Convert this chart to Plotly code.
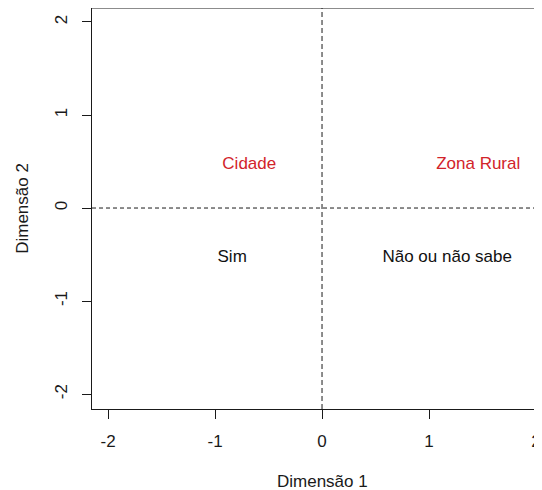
import plotly.graph_objects as go

# Data (correspondence analysis coordinates)
row_labels = ["Cidade", "Zona Rural"]
row_dim1 = [-0.68, 1.46]
row_dim2 = [0.46, 0.46]

col_labels = ["Sim", "Não ou não sabe"]
col_dim1 = [-0.84, 1.17]
col_dim2 = [-0.53, -0.53]

tick_vals = [-2, -1, 0, 1, 2]
tick_text = ["-2", "-1", "0", "1", "2"]

FONT = "Liberation Sans, Arial, sans-serif"
RED = "#D2232A"
INK = "#1a1a1a"

fig = go.Figure()
fig.add_trace(go.Scatter(x=row_dim1, y=row_dim2, text=row_labels, mode="text",
                         textfont=dict(family=FONT, size=17, color=RED),
                         textposition="middle center", hoverinfo="text"))
fig.add_trace(go.Scatter(x=col_dim1, y=col_dim2, text=col_labels, mode="text",
                         textfont=dict(family=FONT, size=17, color="#111111"),
                         textposition="middle center", hoverinfo="text"))

axis_common = dict(
    showgrid=False, zeroline=False, showline=True, linecolor=INK, linewidth=1,
    ticks="outside", ticklen=9, tickcolor=INK, tickwidth=1,
    tickvals=tick_vals, ticktext=tick_text,
    tickfont=dict(family=FONT, size=17, color=INK),
    mirror=False,
)

fig.update_layout(
    width=534, height=482,
    margin=dict(l=84, r=0, t=0, b=81, pad=0),
    plot_bgcolor="white", paper_bgcolor="white",
    showlegend=False,
    xaxis=dict(range=[-2.15, 2.056], ticklabelstandoff=8, **axis_common),
    yaxis=dict(range=[-2.16, 2.15], tickangle=-90, ticklabelstandoff=8, **axis_common),
    shapes=[
        dict(type="line", xref="x", yref="paper", x0=0, x1=0, y0=0, y1=1,
             line=dict(color=INK, width=1, dash="5px,3px")),
        dict(type="line", xref="paper", yref="y", x0=0, x1=1, y0=0, y1=0,
             line=dict(color=INK, width=1, dash="4px,3px")),
        dict(type="line", xref="paper", yref="paper", x0=0, x1=1, y0=1, y1=1,
             line=dict(color=INK, width=1)),
    ],
    annotations=[
        dict(text="Dimensão 1", xref="x", yref="paper", x=0, y=-0.18,
             showarrow=False, font=dict(family=FONT, size=17, color=INK),
             xanchor="center", yanchor="middle"),
        dict(text="Dimensão 2", xref="paper", yref="y", x=-0.156, y=0,
             showarrow=False, textangle=-90, font=dict(family=FONT, size=17, color=INK),
             xanchor="center", yanchor="middle"),
    ],
)

fig.write_html("out.html")
